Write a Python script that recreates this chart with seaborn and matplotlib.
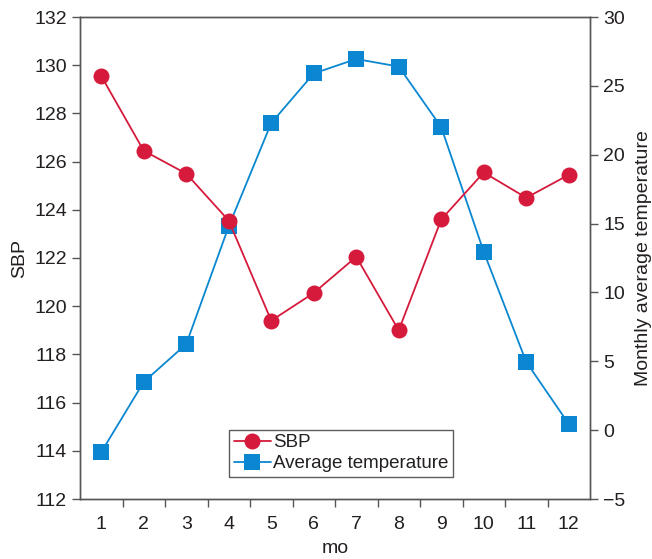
import matplotlib
matplotlib.use("Agg")
import matplotlib.pyplot as plt
import seaborn as sns
import pandas as pd
import numpy as np
from matplotlib.ticker import FixedLocator
from matplotlib.lines import Line2D

months = [1, 2, 3, 4, 5, 6, 7, 8, 9, 10, 11, 12]
sbp = [129.55, 126.45, 125.5, 123.55, 119.4, 120.55, 122.05, 119.0, 123.6, 125.55, 124.5, 125.45]
temperature = [-1.6, 3.5, 6.25, 14.8, 22.3, 25.9, 26.95, 26.4, 22.0, 12.95, 4.95, 0.45]

sns.set_theme(style="white")
plt.rcParams['font.family'] = ['Liberation Sans', 'DejaVu Sans']
text_color = '#231f20'
spine_color = '#555555'
red = '#d51a3b'
blue = '#0a87d0'

df = pd.DataFrame({"mo": months, "SBP": sbp, "Temp": temperature})

fig = plt.figure(figsize=(6.52, 5.59), dpi=100)
ax = fig.add_axes([80/652, 1 - 499/559, 510/652, 482/559])
ax2 = ax.twinx()
ax.set_zorder(ax2.get_zorder() + 1)
ax.patch.set_visible(False)

sns.lineplot(data=df, x="mo", y="SBP", ax=ax, color=red, marker="o",
             markersize=11.5, markeredgewidth=0, linewidth=1.3)
sns.lineplot(data=df, x="mo", y="Temp", ax=ax2, color=blue, marker="s",
             markersize=11, markeredgewidth=0, linewidth=1.3)

ax.set_xlim(0.5, 12.5)
ax.set_ylim(112, 132)
ax2.set_ylim(-5, 30)
ax.set_yticks(np.arange(112, 133, 2))
ax2.set_yticks(np.arange(-5, 31, 5))
ax2.set_yticklabels([str(v).replace('-', '\u2212') for v in range(-5, 31, 5)])
ax.set_xticks(months)
ax.xaxis.set_minor_locator(FixedLocator(np.arange(1.5, 12.0, 1.0)))

fs = 14
ax.tick_params(axis='x', which='major', length=0, labelsize=fs, colors=text_color, pad=12)
ax.tick_params(axis='x', which='minor', length=6, width=1, color=spine_color, direction='out', bottom=True)
ax.tick_params(axis='y', length=6, width=1, color=spine_color, direction='out', labelsize=fs,
               labelcolor=text_color, left=True)
ax2.tick_params(axis='y', length=6, width=1, color=spine_color, direction='out', labelsize=fs,
                labelcolor=text_color, right=True)

for a in (ax, ax2):
    for s in a.spines.values():
        s.set_color(spine_color)
        s.set_linewidth(1.0)
        s.set_visible(True)

ax.set_xlabel("mo", fontsize=fs, color=text_color, labelpad=5)
ax.set_ylabel("SBP", fontsize=fs, color=text_color, labelpad=4)
ax2.set_ylabel("Monthly average temperature", fontsize=fs, color=text_color, labelpad=7)

handles = [
    Line2D([], [], color=red, marker='o', markersize=11.5, markeredgewidth=0, linewidth=1.3),
    Line2D([], [], color=blue, marker='s', markersize=11, markeredgewidth=0, linewidth=1.3),
]
leg = ax.legend(handles, ["SBP", "Average temperature"], loc='lower left',
                bbox_to_anchor=((229 - 80) / 510, (499 - 477) / 482),
                fontsize=13.5, frameon=True, fancybox=False, handlelength=2.0,
                handletextpad=0.1, borderpad=0.25, labelspacing=0.2, borderaxespad=0)
leg.get_frame().set_edgecolor('#333333')
leg.get_frame().set_linewidth(1.0)
for t in leg.get_texts():
    t.set_color(text_color)
if ax2.get_legend() is not None:
    ax2.get_legend().remove()

fig.savefig("out.png", dpi=100)
